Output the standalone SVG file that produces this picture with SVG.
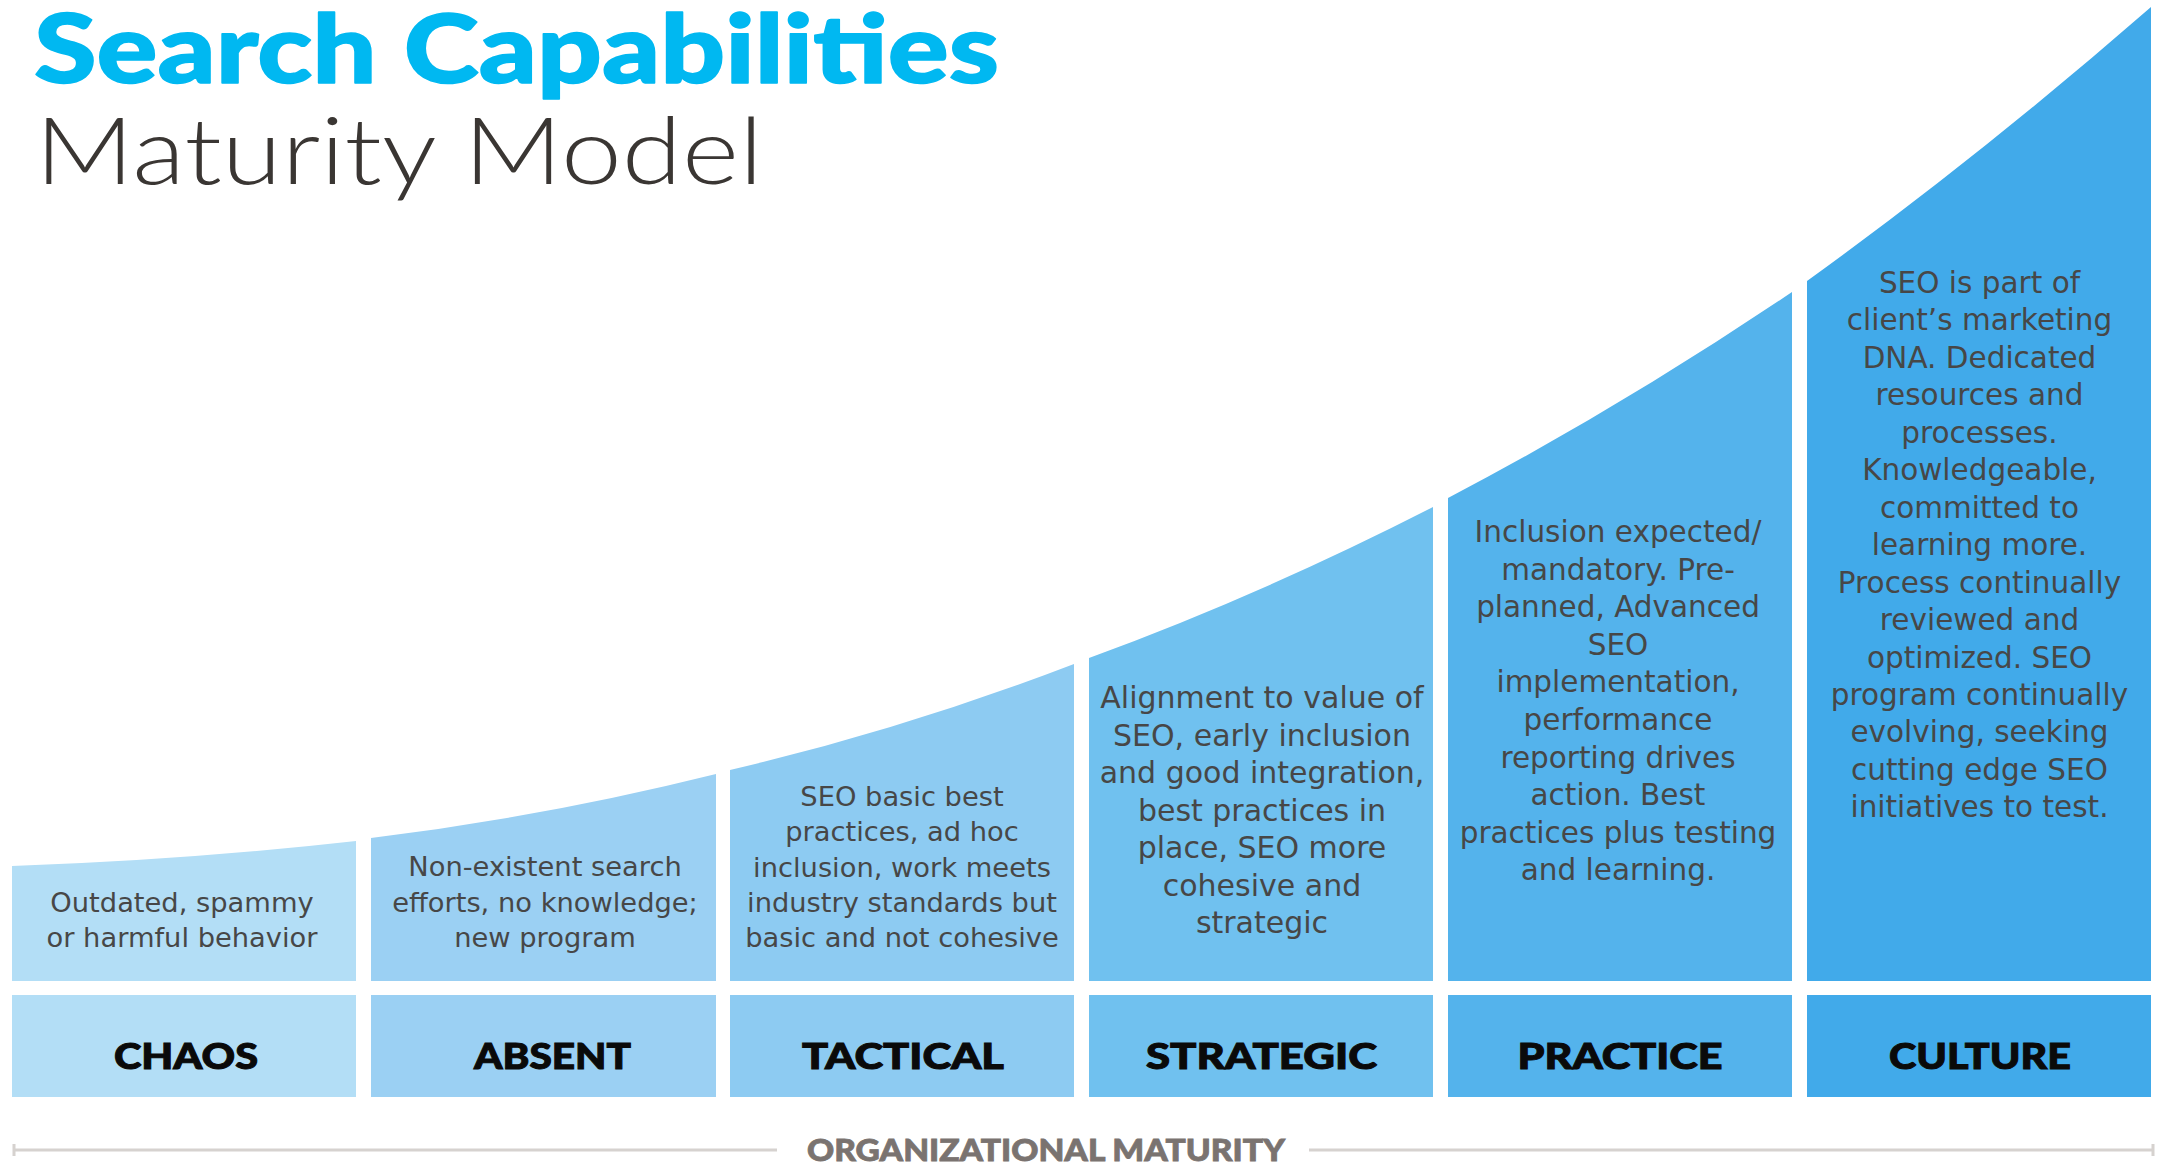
<svg xmlns="http://www.w3.org/2000/svg" width="2169" height="1165" viewBox="0 0 2169 1165">
<style>
  .title1 { font-family: Lato, "Liberation Sans", Arial, sans-serif; font-weight: 900; font-size: 96px; fill: #00B8F1; stroke: #00B8F1; stroke-width: 1.5; stroke-linejoin: round; }
  .title2 { font-family: Lato, "Open Sans", "Liberation Sans", sans-serif; font-weight: 300; font-size: 93px; fill: #3A3633; }
  .body { font-family: "DejaVu Sans", "Liberation Sans", sans-serif; fill: #474747; text-anchor: middle; }
  .s1 { font-size: 27.3px; }
  .s2 { font-size: 30px; }
  .s3 { font-size: 29.5px; }
  .label { font-family: Lato, "Liberation Sans", Arial, sans-serif; font-weight: 900; font-size: 36.5px; fill: #0A0A0A; stroke: #0A0A0A; stroke-width: 1; }
  .axis { stroke: #D6D2CF; stroke-width: 3; fill: none; }
  .axislabel { font-family: Lato, "Liberation Sans", Arial, sans-serif; font-weight: 900; font-size: 30px; fill: #7A7370; stroke: #7A7370; stroke-width: 0.8; }
  .c1 { fill: #B3DEF6; } .c2 { fill: #9BD0F3; } .c3 { fill: #8DCBF2; }
  .c4 { fill: #70C1EF; } .c5 { fill: #54B3EC; } .c6 { fill: #41AAEA; }
</style>
<rect width="2169" height="1165" fill="#FFFFFF"/>

<g id="title">
  <text class="title1" x="34" y="83" textLength="965" lengthAdjust="spacingAndGlyphs">Search Capabilities</text>
  <text class="title2" x="35" y="184" textLength="728" lengthAdjust="spacingAndGlyphs">Maturity Model</text>
</g>

<g id="chaos">
  <path class="c1" d="M12,981 L12,866 Q184,860.3 356,841 L356,981 Z"/>
  <text class="body s1" x="182"><tspan x="182" y="912">Outdated, spammy</tspan><tspan x="182" y="946.5">or harmful behavior</tspan></text>
  <rect class="c1" x="12" y="995" width="344" height="102"/>
  <text class="label" x="114" y="1069" textLength="144" lengthAdjust="spacingAndGlyphs">CHAOS</text>
</g>

<g id="absent">
  <path class="c2" d="M371,981 L371,838 Q543.5,817 716,774 L716,981 Z"/>
  <text class="body s1" x="545"><tspan x="545" y="876">Non-existent search</tspan><tspan x="545" y="911.5">efforts, no knowledge;</tspan><tspan x="545" y="946.5">new program</tspan></text>
  <rect class="c2" x="371" y="995" width="345" height="102"/>
  <text class="label" x="474" y="1069" textLength="157" lengthAdjust="spacingAndGlyphs">ABSENT</text>
</g>

<g id="tactical">
  <path class="c3" d="M730,981 L730,770 Q902,730 1074,664 L1074,981 Z"/>
  <text class="body s1" x="902"><tspan x="902" y="806">SEO basic best</tspan><tspan x="902" y="841">practices, ad hoc</tspan><tspan x="902" y="876.5">inclusion, work meets</tspan><tspan x="902" y="911.5">industry standards but</tspan><tspan x="902" y="946.5">basic and not cohesive</tspan></text>
  <rect class="c3" x="730" y="995" width="344" height="102"/>
  <text class="label" x="802" y="1069" textLength="202" lengthAdjust="spacingAndGlyphs">TACTICAL</text>
</g>

<g id="strategic">
  <path class="c4" d="M1089,981 L1089,658 Q1261,595 1433,507 L1433,981 Z"/>
  <text class="body s2" x="1262"><tspan x="1262" y="708">Alignment to value of</tspan><tspan x="1262" y="745.5">SEO, early inclusion</tspan><tspan x="1262" y="783">and good integration,</tspan><tspan x="1262" y="821">best practices in</tspan><tspan x="1262" y="858">place, SEO more</tspan><tspan x="1262" y="895.5">cohesive and</tspan><tspan x="1262" y="933">strategic</tspan></text>
  <rect class="c4" x="1089" y="995" width="344" height="102"/>
  <text class="label" x="1146" y="1069" textLength="231" lengthAdjust="spacingAndGlyphs">STRATEGIC</text>
</g>

<g id="practice">
  <path class="c5" d="M1448,981 L1448,498 Q1620,408 1792,292 L1792,981 Z"/>
  <text class="body s3" x="1618"><tspan x="1618" y="542">Inclusion expected/</tspan><tspan x="1618" y="579.6">mandatory. Pre-</tspan><tspan x="1618" y="617.2">planned, Advanced</tspan><tspan x="1618" y="654.8">SEO</tspan><tspan x="1618" y="692.4">implementation,</tspan><tspan x="1618" y="730">performance</tspan><tspan x="1618" y="767.6">reporting drives</tspan><tspan x="1618" y="805.2">action. Best</tspan><tspan x="1618" y="842.8">practices plus testing</tspan><tspan x="1618" y="880.4">and learning.</tspan></text>
  <rect class="c5" x="1448" y="995" width="344" height="102"/>
  <text class="label" x="1517.5" y="1069" textLength="205" lengthAdjust="spacingAndGlyphs">PRACTICE</text>
</g>

<g id="culture">
  <path class="c6" d="M1807,981 L1807,281 Q1979,157 2151,7 L2151,981 Z"/>
  <text class="body s3" x="1979.5"><tspan x="1979.5" y="293">SEO is part of</tspan><tspan x="1979.5" y="330.4">client’s marketing</tspan><tspan x="1979.5" y="367.9">DNA. Dedicated</tspan><tspan x="1979.5" y="405.3">resources and</tspan><tspan x="1979.5" y="442.8">processes.</tspan><tspan x="1979.5" y="480.2">Knowledgeable,</tspan><tspan x="1979.5" y="517.7">committed to</tspan><tspan x="1979.5" y="555.1">learning more.</tspan><tspan x="1979.5" y="592.6">Process continually</tspan><tspan x="1979.5" y="630">reviewed and</tspan><tspan x="1979.5" y="667.5">optimized. SEO</tspan><tspan x="1979.5" y="704.9">program continually</tspan><tspan x="1979.5" y="742.4">evolving, seeking</tspan><tspan x="1979.5" y="779.8">cutting edge SEO</tspan><tspan x="1979.5" y="817.3">initiatives to test.</tspan></text>
  <rect class="c6" x="1807" y="995" width="344" height="102"/>
  <text class="label" x="1889" y="1069" textLength="182" lengthAdjust="spacingAndGlyphs">CULTURE</text>
</g>

<g id="axis">
  <path class="axis" d="M14,1150 L777,1150 M14,1144 L14,1156 M1309,1150 L2153,1150 M2153,1144 L2153,1156"/>
  <text class="axislabel" x="807" y="1161" textLength="478" lengthAdjust="spacingAndGlyphs">ORGANIZATIONAL MATURITY</text>
</g>

<g id="connectors"></g>
</svg>
